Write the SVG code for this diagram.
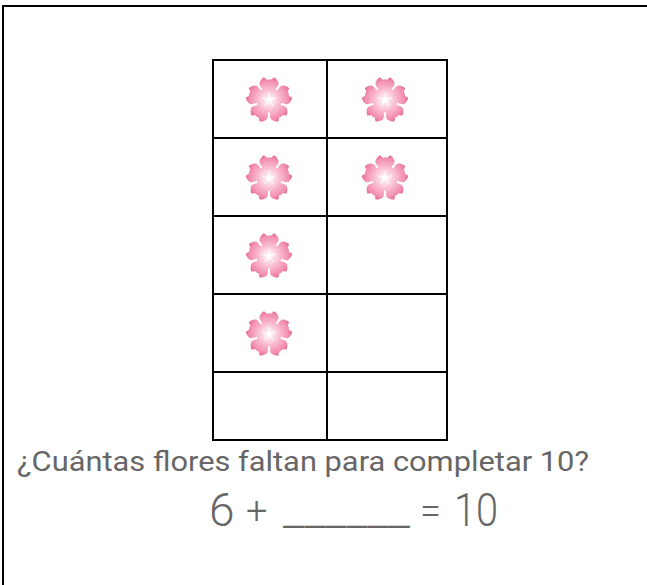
<svg xmlns="http://www.w3.org/2000/svg" width="647" height="585" viewBox="0 0 647 585">
<style>
.ln{fill:none;stroke:#000;stroke-width:2}
.t{font-family:Roboto,"Liberation Sans",sans-serif;fill:#666}
.l{font-weight:300}
</style>
<defs>
<radialGradient id="pg" gradientUnits="userSpaceOnUse" cx="0" cy="0" r="23">
<stop offset="0" stop-color="#fff"/><stop offset=".15" stop-color="#fdeaf0"/><stop offset=".5" stop-color="#f9b8ce"/><stop offset=".85" stop-color="#f28db0"/><stop offset="1" stop-color="#e26b96"/>
</radialGradient>
<path id="petal" d="M0 0L-7 -11.500C-9 -14 -10 -15.500 -9.500 -17.500C-8.500 -20 -6.500 -22.300 -5 -22.800L-2 -20.300L0 -20.800L2 -20.300L5 -22.800C6.500 -22.300 8.500 -20 9.500 -17.500C10 -15.500 9 -14 7 -11.500Z"/>
<g id="flower">
<g fill="url(#pg)">
<use href="#petal"/><use href="#petal" transform="rotate(72)"/><use href="#petal" transform="rotate(144)"/><use href="#petal" transform="rotate(216)"/><use href="#petal" transform="rotate(288)"/>
<circle r="12.500"/>
</g>
<circle r="2.500" fill="#fff"/>
<g stroke="#fff" stroke-width="1" stroke-linecap="round"><path d="M0 0V-7M0 0L6.700 -2.200M0 0L4.100 5.700M0 0L-4.100 5.700M0 0L-6.700 -2.200"/></g>
</g>
</defs>
<rect width="647" height="585" fill="#fff"/>
<g id="frame"><path class="ln" d="M3 585V6H647"/></g>
<g id="grid"><path class="ln" d="M213 60H447V440H213ZM327 60V440M213 138H447M213 216H447M213 294H447M213 372H447"/></g>
<g id="flowers">
<use href="#flower" x="269" y="100"/><use href="#flower" x="385" y="100"/>
<use href="#flower" x="269" y="178"/><use href="#flower" x="385" y="178"/>
<use href="#flower" x="269" y="256"/><use href="#flower" x="269" y="334"/>
</g>
<text class="t" x="17" y="471" font-size="27" textLength="572" lengthAdjust="spacingAndGlyphs">¿Cuántas flores faltan para completar 10?</text>
<text class="t l" x="209" y="526" font-size="46">6</text>
<text class="t l" x="246" y="524" font-size="38">+</text>
<text class="t" x="283" y="526" font-size="31" textLength="127" lengthAdjust="spacingAndGlyphs">______</text>
<text class="t l" x="420" y="524" font-size="38">=</text>
<text class="t l" x="454" y="526" font-size="46" textLength="44" lengthAdjust="spacingAndGlyphs">10</text>
</svg>
